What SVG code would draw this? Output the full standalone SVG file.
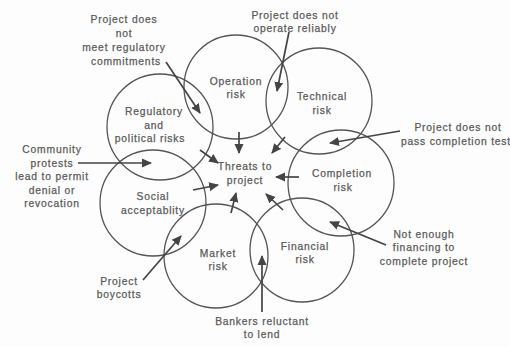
<svg xmlns="http://www.w3.org/2000/svg" width="510" height="347" viewBox="0 0 510 347">
  <defs>
    <marker id="head" viewBox="0 0 10 10" refX="9" refY="5" markerWidth="10" markerHeight="10" markerUnits="userSpaceOnUse" orient="auto">
      <path d="M0,0.5 L10,5 L0,9.5 Z" fill="#444"/>
    </marker>
    <style>
      text { font-family: "Liberation Sans", Arial, sans-serif; font-size: 10.3px; fill: #5a5a5a; stroke: #5a5a5a; stroke-width: 0.25; text-anchor: middle; letter-spacing: 0.8px; }
      .ring { fill: none; stroke: #555; stroke-width: 1.3; }
      .link { fill: none; stroke: #444; stroke-width: 1.7; marker-end: url(#head); }
    </style>
  </defs>
  <rect width="510" height="347" fill="#fdfdfd"/>

  <!-- risk circles arranged in a ring -->
  <g id="operation">
    <circle class="ring" cx="236" cy="87" r="52"/>
    <text x="236" y="85">Operation</text>
    <text x="236" y="98">risk</text>
  </g>
  <g id="technical">
    <circle class="ring" cx="319" cy="101" r="53"/>
    <text x="322" y="100">Technical</text>
    <text x="322" y="114">risk</text>
  </g>
  <g id="completion">
    <circle class="ring" cx="341" cy="183" r="53"/>
    <text x="342" y="177">Completion</text>
    <text x="343" y="191">risk</text>
  </g>
  <g id="financial">
    <circle class="ring" cx="302" cy="250" r="52"/>
    <text x="305" y="250">Financial</text>
    <text x="305" y="263">risk</text>
  </g>
  <g id="market">
    <circle class="ring" cx="216" cy="256" r="52"/>
    <text x="218" y="257">Market</text>
    <text x="218" y="270">risk</text>
  </g>
  <g id="social">
    <circle class="ring" cx="153" cy="203" r="53"/>
    <text x="153" y="200">Social</text>
    <text x="153" y="214">acceptablity</text>
  </g>
  <g id="regulatory">
    <circle class="ring" cx="160" cy="127" r="53"/>
    <text x="154" y="115">Regulatory</text>
    <text x="154" y="129">and</text>
    <text x="150" y="142">political risks</text>
  </g>
  <g id="threats">
    <text x="245" y="170">Threats to</text>
    <text x="245" y="184">project</text>
  </g>

  <!-- outside causes -->
  <g id="cause-regulatory">
    <text x="124" y="23">Project does</text>
    <text x="124" y="37">not</text>
    <text x="124" y="51">meet regulatory</text>
    <text x="126" y="65">commitments</text>
  </g>
  <g id="cause-technical">
    <text x="295" y="19">Project does not</text>
    <text x="295" y="32">operate reliably</text>
  </g>
  <g id="cause-completion">
    <text x="458" y="131">Project does not</text>
    <text x="456" y="145">pass completion test</text>
  </g>
  <g id="cause-financial">
    <text x="424" y="238">Not enough</text>
    <text x="424" y="251">financing to</text>
    <text x="424" y="265">complete project</text>
  </g>
  <g id="cause-market">
    <text x="262" y="325">Bankers reluctant</text>
    <text x="262" y="338">to lend</text>
  </g>
  <g id="cause-social">
    <text x="119" y="285">Project</text>
    <text x="119" y="298">boycotts</text>
  </g>
  <g id="cause-community">
    <text x="52" y="153">Community</text>
    <text x="52" y="167">protests</text>
    <text x="52" y="180">lead to permit</text>
    <text x="52" y="194">denial or</text>
    <text x="52" y="207">revocation</text>
  </g>

  <g id="connectors">
    <!-- causes into the circles -->
    <line class="link" x1="166" y1="62" x2="200" y2="113"/>
    <line class="link" x1="289" y1="32" x2="277" y2="91"/>
    <line class="link" x1="400" y1="131" x2="330" y2="143"/>
    <line class="link" x1="386" y1="245" x2="330" y2="222"/>
    <line class="link" x1="262" y1="312" x2="262" y2="256"/>
    <line class="link" x1="143" y1="280" x2="181" y2="236"/>
    <line class="link" x1="78" y1="163" x2="151" y2="163"/>
    <!-- circles into the centre -->
    <line class="link" x1="239" y1="132" x2="239" y2="153"/>
    <line class="link" x1="285" y1="137" x2="272" y2="153"/>
    <line class="link" x1="299" y1="177" x2="276" y2="177"/>
    <line class="link" x1="283" y1="210" x2="266" y2="194"/>
    <line class="link" x1="231" y1="213" x2="236" y2="193"/>
    <line class="link" x1="193" y1="190" x2="218" y2="185"/>
    <line class="link" x1="200" y1="150" x2="218" y2="163"/>
  </g>
</svg>
